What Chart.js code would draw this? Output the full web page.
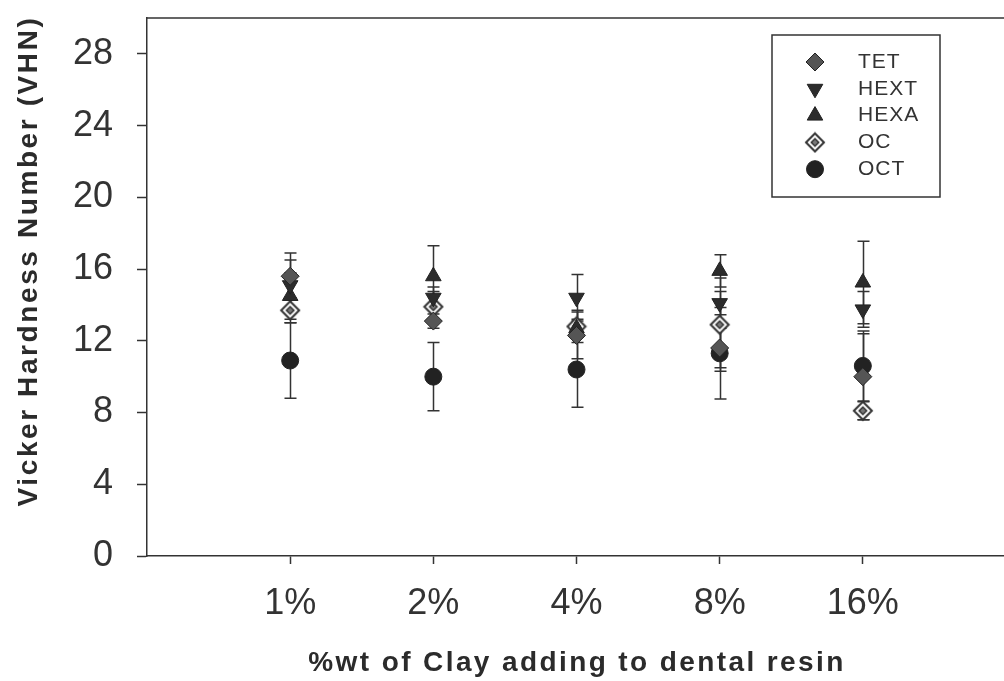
<!DOCTYPE html>
<html>
<head>
<meta charset="utf-8">
<script src="https://cdn.jsdelivr.net/npm/chart.js@4.4.1/dist/chart.umd.min.js"></script>
<style>
  html, body { margin: 0; padding: 0; background: #fff; overflow: hidden; }
  #wrap { position: relative; width: 1016px; height: 681px; }
</style>
</head>
<body>
<div id="wrap"><canvas id="hardness" width="1016" height="681"></canvas></div>
<script>
// Vickers hardness of dental resin vs. clay loading, mean +/- SD per modifier
const clayLevels = ['1%', '2%', '4%', '8%', '16%'];
const yTicks = [0, 4, 8, 12, 16, 20, 24, 28];

const tetMean  = [15.6, 13.1, 12.3, 11.6, 10.0];
const tetErr   = [1.3, 0.4, 1.3, 1.1, 2.4];
const hextMean = [15.1, 14.4, 14.4, 14.1, 13.75];
const hextErr  = [1.4, 0.6, 1.3, 0.65, 1.0];
const hexaMean = [14.5, 15.6, 12.7, 15.9, 15.25];
const hexaErr  = [1.3, 1.7, 0.5, 0.9, 2.3];
const ocMean   = [13.7, 13.9, 12.8, 12.9, 8.1];
const ocErr    = [0.7, 0.85, 0.9, 2.6, 0.5];
const octMean  = [10.9, 10.0, 10.4, 11.3, 10.6];
const octErr   = [2.1, 1.9, 2.1, 2.55, 1.95];

const INK = '#333';
const FONT = '"Liberation Sans", Arial, sans-serif';

// open diamond with a small diamond inside (OC marker)
function openDiamond(r) {
  const s = Math.ceil(r * 2 + 4);
  const c = document.createElement('canvas');
  c.width = s; c.height = s;
  const g = c.getContext('2d');
  const m = s / 2;
  const diamond = (k) => {
    g.beginPath();
    g.moveTo(m, m - k); g.lineTo(m + k, m); g.lineTo(m, m + k); g.lineTo(m - k, m);
    g.closePath();
  };
  diamond(r);
  g.fillStyle = '#fff'; g.fill();
  g.lineWidth = 2; g.strokeStyle = INK; g.stroke();
  diamond(r * 0.42);
  g.fillStyle = '#777'; g.fill();
  g.lineWidth = 1.5; g.stroke();
  return c;
}

const series = [
  { label: 'TET',  mean: tetMean,  err: tetErr,  style: 'rectRot',  rotation: 0,   fill: '#555', radius: 9 },
  { label: 'HEXT', mean: hextMean, err: hextErr, style: 'triangle', rotation: 180, fill: '#2c2c2c', radius: 9 },
  { label: 'HEXA', mean: hexaMean, err: hexaErr, style: 'triangle', rotation: 0,   fill: '#2c2c2c', radius: 9 },
  { label: 'OC',   mean: ocMean,   err: ocErr,   style: openDiamond(9), rotation: 0, fill: '#fff', radius: 9 },
  { label: 'OCT',  mean: octMean,  err: octErr,  style: 'circle',   rotation: 0,   fill: '#222', radius: 8.5 }
];

const errorBars = {
  id: 'errorBars',
  beforeDatasetsDraw(chart) {
    const { ctx, scales: { x, y }, chartArea } = chart;
    ctx.save();
    // plot frame top and right edges
    ctx.strokeStyle = INK;
    ctx.lineWidth = 1.5;
    ctx.beginPath();
    ctx.moveTo(chartArea.left, chartArea.top);
    ctx.lineTo(chartArea.right, chartArea.top);
    ctx.lineTo(chartArea.right, chartArea.bottom);
    ctx.stroke();

    series.forEach(s => s.mean.forEach((v, i) => {
      const px = Math.round(x.getPixelForValue(i + 1)) + 0.5;
      const top = y.getPixelForValue(v + s.err[i]);
      const bot = y.getPixelForValue(v - s.err[i]);
      ctx.beginPath();
      ctx.moveTo(px, top); ctx.lineTo(px, bot);
      ctx.moveTo(px - 6, top); ctx.lineTo(px + 6, top);
      ctx.moveTo(px - 6, bot); ctx.lineTo(px + 6, bot);
      ctx.stroke();
    }));
    ctx.restore();
  }
};

const decorations = {
  id: 'decorations',
  afterDraw(chart) {
    const { ctx } = chart;
    ctx.save();

    // legend box
    ctx.strokeStyle = INK;
    ctx.lineWidth = 1.5;
    ctx.strokeRect(772, 35, 168, 162);
    ctx.font = '21px ' + FONT;
    ctx.letterSpacing = '1px';
    ctx.textBaseline = 'middle';
    ctx.textAlign = 'left';
    series.forEach((s, i) => {
      const ry = 62 + i * 26.8;
      ctx.fillStyle = s.fill;
      ctx.strokeStyle = '#222';
      ctx.lineWidth = 1;
      Chart.helpers.drawPoint(ctx, { pointStyle: s.style, radius: s.radius, rotation: s.rotation, borderWidth: 1 }, 815, ry);
      ctx.fillStyle = INK;
      ctx.fillText(s.label, 858, ry);
    });

    // axis titles
    ctx.fillStyle = '#2b2b2b';
    ctx.font = 'bold 28px ' + FONT;
    ctx.letterSpacing = '2.4px';
    ctx.textAlign = 'center';
    ctx.fillText('%wt of Clay adding to dental resin', 577, 663);

    ctx.letterSpacing = '2.6px';
    ctx.translate(29, 261);
    ctx.rotate(-Math.PI / 2);
    ctx.fillText('Vicker Hardness Number (VHN)', 0, 0);
    ctx.restore();
  }
};

new Chart(document.getElementById('hardness'), {
  type: 'scatter',
  data: {
    datasets: series.map(s => ({
      label: s.label,
      data: s.mean.map((v, i) => ({ x: i + 1, y: v })),
      pointStyle: s.style,
      rotation: s.rotation,
      radius: s.radius,
      hoverRadius: s.radius,
      backgroundColor: s.fill,
      borderColor: '#222',
      borderWidth: 1,
      showLine: false
    }))
  },
  options: {
    responsive: false,
    animation: false,
    devicePixelRatio: 1,
    layout: { padding: { left: 73, top: 18, right: 6, bottom: 0 } },
    plugins: { legend: { display: false }, tooltip: { enabled: false } },
    scales: {
      x: {
        type: 'linear',
        min: 0,
        max: 6,
        afterBuildTicks: axis => { axis.ticks = clayLevels.map((_, i) => ({ value: i + 1 })); },
        afterFit: axis => { axis.height = 125; axis.paddingLeft = 0; axis.paddingRight = 0; },
        ticks: {
          callback: v => clayLevels[v - 1],
          font: { family: FONT, size: 36 },
          color: INK,
          padding: 18,
          maxRotation: 0,
          autoSkip: false
        },
        grid: { drawOnChartArea: false, tickLength: 8, tickColor: INK, tickWidth: 1.5 },
        border: { color: INK, width: 1.5 }
      },
      y: {
        min: 0,
        max: 30,
        afterBuildTicks: axis => { axis.ticks = yTicks.map(v => ({ value: v })); },
        afterFit: axis => { axis.width = 74; axis.paddingTop = 0; axis.paddingBottom = 0; },
        ticks: {
          font: { family: FONT, size: 36 },
          color: INK,
          padding: 24
        },
        grid: { drawOnChartArea: false, tickLength: 10, tickColor: INK, tickWidth: 1.5 },
        border: { color: INK, width: 1.5 }
      }
    }
  },
  plugins: [errorBars, decorations]
});
</script>
</body>
</html>
